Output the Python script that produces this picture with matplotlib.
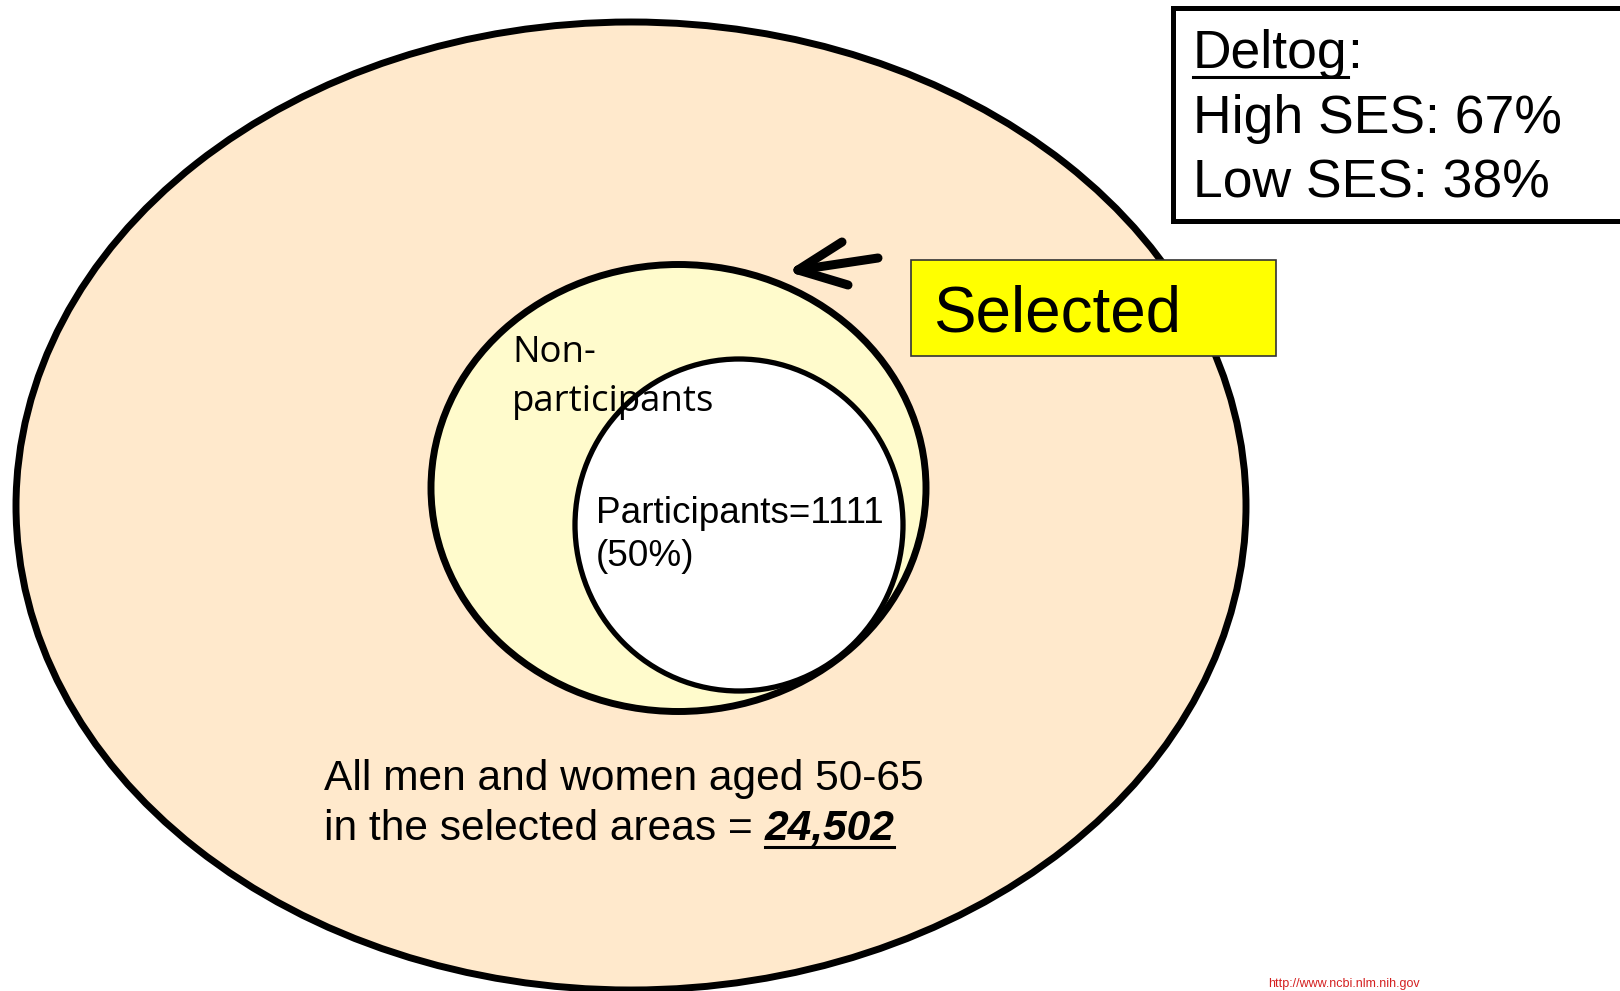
import matplotlib
matplotlib.use("Agg")
import matplotlib.pyplot as plt
from matplotlib.patches import Ellipse, Rectangle

# ---------------- data ----------------
total_population = 24502
participants = 1111
participation_pct = 50
ses_groups = ["High SES", "Low SES"]
ses_pct = [67, 38]
box_title = "Deltog"
selected_label = "Selected"
nonpart_label = ["Non-", "participants"]
pop_label = ["All men and women aged 50-65", "in the selected areas ="]
source_text = "http://www.ncbi.nlm.nih.gov"

# ---------------- layout ----------------
W, H = 1620, 991
fig = plt.figure(figsize=(W / 100, H / 100), dpi=100)
ax = fig.add_axes([0, 0, 1, 1])
ax.set_xlim(0, W)
ax.set_ylim(H, 0)
ax.axis("off")

ARIAL = ["Liberation Sans", "DejaVu Sans"]
CALIBRI = ["Open Sans", "DejaVu Sans"]

PEACH = "#FFE9CC"
LIGHT_YELLOW = "#FFFBCC"

# nested sets
ax.add_patch(Ellipse((631, 506), 1230, 968, facecolor=PEACH,
                     edgecolor="black", lw=5, zorder=1))
ax.add_patch(Ellipse((678.5, 488), 495, 447, facecolor=LIGHT_YELLOW,
                     edgecolor="black", lw=5, zorder=2))
ax.add_patch(Ellipse((739, 525), 328, 332, facecolor="white",
                     edgecolor="black", lw=3.8, zorder=3))

# arrow pointing at the "selected" ellipse
tip = (798, 270)
for end in [(878, 258), (842, 242), (848, 285)]:
    ax.plot([tip[0], end[0]], [tip[1], end[1]], color="black", lw=6.5,
            solid_capstyle="round", zorder=6)

# yellow "Selected" label box
ax.add_patch(Rectangle((911, 260), 365, 96, facecolor="#FFFF00",
                       edgecolor="#333333", lw=1.2, zorder=5))
ax.text(933, 332, selected_label, fontsize=45.8, family=ARIAL,
        va="baseline", ha="left", zorder=7)

# Deltog box (top right)
ax.add_patch(Rectangle((1172.5, 7.5), 520, 213.5, facecolor="white",
                       edgecolor="black", lw=3.6, zorder=5))

fig.canvas.draw()
renderer = fig.canvas.get_renderer()
inv = ax.transData.inverted()


def data_extent(t):
    bb = t.get_window_extent(renderer=renderer)
    (x0, y0), (x1, y1) = inv.transform([(bb.x0, bb.y0), (bb.x1, bb.y1)])
    return x0, x1


fs_box = 38.5
t_title = ax.text(1193, 68, box_title, fontsize=fs_box, family=ARIAL,
                  va="baseline", ha="left", zorder=7)
x0, x1 = data_extent(t_title)
ax.text(x1, 68, ":", fontsize=fs_box, family=ARIAL, va="baseline",
        ha="left", zorder=7)
ax.plot([x0, x1], [77, 77], color="black", lw=2.2, zorder=7)

for i, (g, p) in enumerate(zip(ses_groups, ses_pct)):
    ax.text(1193, 133 + i * 65, f"{g}: {p}%", fontsize=fs_box, family=ARIAL,
            va="baseline", ha="left", zorder=7)

# Non-participants label
ax.text(512, 362, nonpart_label[0], fontsize=26.4, family=CALIBRI,
        va="baseline", ha="left", zorder=8)
ax.text(512, 411, nonpart_label[1], fontsize=26.4, family=CALIBRI,
        va="baseline", ha="left", zorder=8)

# Participants label
ax.text(596, 523, f"Participants={participants}", fontsize=26.6, family=ARIAL,
        va="baseline", ha="left", zorder=8)
ax.text(596, 566, f"({participation_pct}%)", fontsize=26.6, family=ARIAL,
        va="baseline", ha="left", zorder=8)

# population label
fs_pop = 30.6
ax.text(324, 790, pop_label[0], fontsize=fs_pop, family=ARIAL,
        va="baseline", ha="left", zorder=8)
t_pop2 = ax.text(324, 840, pop_label[1], fontsize=fs_pop, family=ARIAL,
                 va="baseline", ha="left", zorder=8)
_, px1 = data_extent(t_pop2)
space = 0.278 * fs_pop / 72 * 100
t_num = ax.text(px1 + space, 840, f"{total_population:,}", fontsize=fs_pop,
                family=ARIAL, fontweight="bold", fontstyle="italic",
                va="baseline", ha="left", zorder=8)
n0, n1 = data_extent(t_num)
ax.plot([n0, n1], [847, 847], color="black", lw=2.2, zorder=8)

# source line at the bottom edge
ax.text(1268, 990, source_text, fontsize=9, family=ARIAL, color="#D42020",
        va="bottom", ha="left", zorder=8)

fig.savefig("out.png", dpi=100)
